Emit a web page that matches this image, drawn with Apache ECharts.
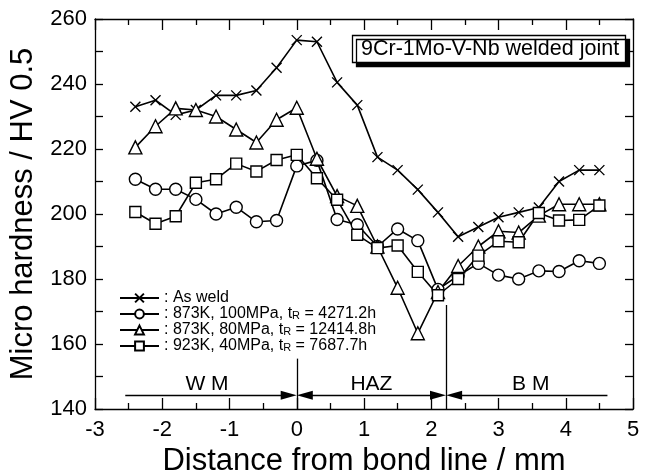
<!DOCTYPE html>
<html><head><meta charset="utf-8">
<script src="https://cdn.jsdelivr.net/npm/echarts@6/dist/echarts.min.js"></script>
<style>html,body{margin:0;padding:0;background:#fff}#c{width:653px;height:476px}</style>
</head><body><div id="c"></div>
<script>
// Distance from bond line (mm)
const distance = [-2.4,-2.1,-1.8,-1.5,-1.2,-0.9,-0.6,-0.3,0,0.3,0.6,0.9,1.2,1.5,1.8,2.1,2.4,2.7,3.0,3.3,3.6,3.9,4.2,4.5];
// Micro hardness HV0.5
const asWeld = [233,235,230.5,232,236.5,236.5,238,245,253.5,253,240.5,233.5,217.5,213.5,207.5,200.5,193,196,199,200.5,202,210,213.5,213.5];
const k873_100 = [210.7,207.6,207.6,204.5,200,202.1,197.6,198,214.8,216.5,198.3,196.7,190,195.4,191.8,176.8,181,184.8,181.2,180,182.5,182.3,185.6,184.8];
const k873_80 = [220.5,227,232.5,232,230,226,222,229,232.7,217,205.5,202.5,190,177.3,163.3,176,184,190,194.7,194.3,199.5,203,203,203];
const k923_40 = [200.6,197,199.3,209.6,210.7,215.5,213.1,216.6,218.2,211,204.4,193.6,189.5,190.3,182.2,175,180,187.2,191.6,191.3,200.3,198,198.2,202.6];

const seriesNames = ['As weld','873K, 100MPa','873K, 80MPa','923K, 40MPa'];
const legendTexts = [
  '{a|: As weld}',
  '{a|: 873K, 100MPa, t}{s|R}{a| = 4271.2h}',
  '{a|: 873K, 80MPa, t}{s|R}{a| = 12414.8h}',
  '{a|: 923K, 40MPa, t}{s|R}{a| = 7687.7h}'
];
const xTicks = [-3,-2,-1,0,1,2,3,4,5];
const yTicks = [140,160,180,200,220,240,260];
const zoneNames = ['W M','HAZ','B M'];
const zoneBounds = [-2.55, 0, 2.22, 4.62];
const zoneArrowY = 144.2;
const boundaryTops = [155.5, 172];
const titleText = '9Cr-1Mo-V-Nb welded joint';

const FONT = '"Liberation Sans", Arial, Helvetica, sans-serif';
const BLACK = '#000';
const chart = echarts.init(document.getElementById('c'));

function mkSeries(name, vals, symbol, size, fill) {
  return {
    name: name, type: 'line',
    data: distance.map((x, i) => [x, vals[i]]),
    symbol: symbol, symbolSize: size, showAllSymbol: true,
    lineStyle: {color: BLACK, width: 1.6},
    itemStyle: {color: fill, borderColor: BLACK, borderWidth: 1.4},
    emphasis: {disabled: true},
    animation: false
  };
}

const axisLineStyle = {color: BLACK, width: 1.3};
function xAx(pos, showLabel) {
  return {
    type: 'value', position: pos,
    min: xTicks[0], max: xTicks[xTicks.length - 1], interval: xTicks[1] - xTicks[0],
    axisLine: {show: true, onZero: false, lineStyle: axisLineStyle},
    axisTick: {show: true, inside: true, length: 11, lineStyle: axisLineStyle},
    minorTick: {show: true, splitNumber: 2, length: 6, lineStyle: axisLineStyle},
    splitLine: {show: false},
    axisLabel: {show: showLabel, fontSize: 22, color: BLACK, margin: 10, fontFamily: FONT},
    name: showLabel ? 'Distance from bond line / mm' : '',
    nameLocation: 'middle', nameGap: 36,
    nameTextStyle: {fontSize: 31, color: BLACK, fontFamily: FONT}
  };
}
function yAx(pos, showLabel) {
  return {
    type: 'value', position: pos,
    min: yTicks[0], max: yTicks[yTicks.length - 1], interval: yTicks[1] - yTicks[0],
    axisLine: {show: true, onZero: false, lineStyle: axisLineStyle},
    axisTick: {show: true, inside: true, length: 8, lineStyle: axisLineStyle},
    minorTick: {show: true, splitNumber: 2, length: 8, lineStyle: axisLineStyle},
    splitLine: {show: false},
    axisLabel: {show: showLabel, fontSize: 22, color: BLACK, margin: 8, fontFamily: FONT},
    name: showLabel ? 'Micro hardness / HV 0.5' : '',
    nameLocation: 'middle', nameGap: 55,
    nameTextStyle: {fontSize: 31, color: BLACK, fontFamily: FONT}
  };
}

const arrowSize = [9, 16];
const off = 0.12;
const zoneLines = [
  [{coord: [zoneBounds[0], zoneArrowY], symbol: 'none', name: zoneNames[0]},
   {coord: [zoneBounds[1] - off, zoneArrowY], symbol: 'triangle', symbolSize: arrowSize}],
  [{coord: [zoneBounds[1] + off, zoneArrowY], symbol: 'triangle', symbolSize: arrowSize, name: zoneNames[1]},
   {coord: [zoneBounds[2] - off, zoneArrowY], symbol: 'triangle', symbolSize: arrowSize}],
  [{coord: [zoneBounds[2] + off, zoneArrowY], symbol: 'triangle', symbolSize: arrowSize, name: zoneNames[2]},
   {coord: [zoneBounds[3], zoneArrowY], symbol: 'none'}]
].map(l => {
  l[0].label = {show: true, position: 'insideMiddleTop', distance: 1, formatter: '{b}',
    fontSize: 21, color: BLACK, fontFamily: FONT};
  return l;
});
const boundaryLines = [
  [{coord: [zoneBounds[1], boundaryTops[0]], symbol: 'none'}, {coord: [zoneBounds[1], yTicks[0]], symbol: 'none'}],
  [{coord: [zoneBounds[2], boundaryTops[1]], symbol: 'none'}, {coord: [zoneBounds[2], yTicks[0]], symbol: 'none'}]
];

const option = {
  animation: false,
  backgroundColor: '#fff',
  grid: {left: 95, right: 20, top: 19, bottom: 67, containLabel: false, outerBoundsMode: 'none'},
  title: {
    text: titleText, left: 352, top: 35,
    padding: [3, 7, 2, 9],
    textStyle: {fontSize: 21.5, fontWeight: 'normal', color: BLACK, fontFamily: FONT, lineHeight: 23},
    backgroundColor: '#fff', borderColor: BLACK, borderWidth: 1.3,
    shadowColor: BLACK, shadowOffsetX: 4, shadowOffsetY: 4, shadowBlur: 0
  },
  legend: {
    orient: 'vertical', left: 114, top: 285,
    itemWidth: 39, itemHeight: 11, itemGap: 0,
    selectedMode: false,
    data: seriesNames,
    formatter: name => legendTexts[seriesNames.indexOf(name)],
    textStyle: {
      color: BLACK, fontSize: 16, lineHeight: 15, fontFamily: FONT,
      rich: {
        a: {fontSize: 16, lineHeight: 15, color: BLACK, fontFamily: FONT},
        s: {fontSize: 11, lineHeight: 11, color: BLACK, fontFamily: FONT, verticalAlign: 'bottom'}
      }
    }
  },
  xAxis: [xAx('bottom', true), xAx('top', false)],
  yAxis: [yAx('left', true), yAx('right', false)],
  series: [
    mkSeries(seriesNames[0], asWeld, 'path://M0,0L10,10M0,10L10,0', 10, BLACK),
    mkSeries(seriesNames[1], k873_100, 'circle', 12, '#fff'),
    mkSeries(seriesNames[2], k873_80, 'triangle', 13, '#fff'),
    mkSeries(seriesNames[3], k923_40, 'rect', 11, '#fff'),
    {
      name: 'zones', type: 'line', data: [], silent: true, animation: false,
      markLine: {
        silent: true, animation: false, symbol: ['none', 'none'],
        lineStyle: {color: BLACK, width: 1.3, type: 'solid'},
        itemStyle: {color: BLACK},
        label: {show: false},
        emphasis: {disabled: true},
        data: boundaryLines.concat(zoneLines)
      }
    }
  ]
};
chart.setOption(option);
</script></body></html>
